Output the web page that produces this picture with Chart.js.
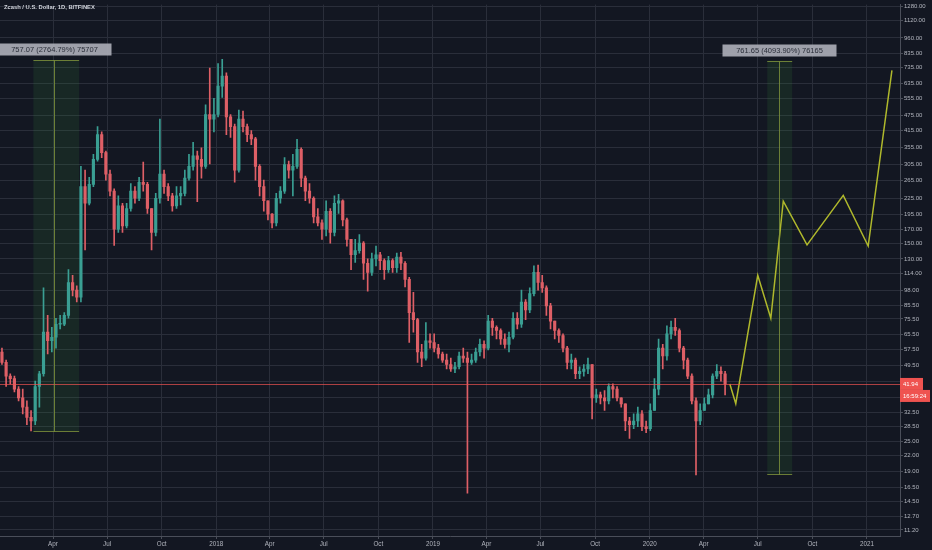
<!DOCTYPE html>
<html><head><meta charset="utf-8">
<script src="https://cdn.jsdelivr.net/npm/chart.js@4.4.1/dist/chart.umd.min.js"></script>
<style>html,body{margin:0;padding:0;background:#131722;overflow:hidden}canvas{display:block}</style>
</head><body><canvas id="c" width="932" height="550"></canvas>
<script>
// Weekly candles, day offsets measured from 2018-01-01 (centre of first week)
const firstCandleDay = -361;
const candleStepDays = 7;
const opens = [
56,51,45,44,40,37,34,31,30,41,
46,67,62,64,72,72,78,105,98,92,
250,215,255,320,400,340,280,240,170,210,
175,205,240,225,260,255,205,165,225,280,
250,230,210,230,235,270,300,330,320,300,
480,460,480,620,680,470,430,290,460,430,
400,385,300,250,220,195,180,225,240,305,
290,300,350,270,240,225,190,180,170,200,
165,215,220,185,155,135,140,150,125,115,
130,135,128,118,128,120,132,125,108,80,
75,56,53,62,61,58,55,52,50,48,
49,54,53,51,52,56,60,58,74,70,
68,63,60,64,76,72,88,82,95,115,
105,100,85,74,68,65,58,51,52,46,
47,48,50,37,38,37,36,41,40,37,
35,30,29,30,32,28.5,28,33,40,58,
54,66,70,68,58,52,45,36,30,33,
35,38,45,47,46];
const highs = [
58,52,46,45,41,40,36,33,43,47,
100,78,70,76,78,80,118,112,102,300,
290,272,335,430,410,345,290,245,230,215,
215,257,250,272,312,260,205,235,460,290,
257,235,250,250,290,335,373,345,355,524,
730,555,760,790,700,480,440,500,495,440,
415,390,305,265,220,196,235,250,325,315,
335,383,355,275,257,228,205,185,220,205,
230,233,222,188,155,155,162,152,130,137,
146,138,130,133,130,137,138,127,110,96,
76,60,73,66,66,60,56,55,53,51,
56,58,56,55,58,63,62,78,76,71,
69,66,67,80,80,98,90,100,122,123,
112,102,87,74,69,66,59,55,53,49,
50,53,50,40,39,39.5,42,42,41,37,
35,31,32,34,33,30,35,44,63,60,
71,74,76,69,59,53,46,37,35,37,
40,46,50,49,47];
const lows = [
50,41,42,39,36,32,29,27.4,29,34,
45,55,56,58,69,71,76,93,88,88,
141,212,250,315,325,265,230,147,165,165,
172,200,215,220,240,196,141,160,215,235,
220,200,205,212,230,265,290,218,270,295,
307,410,470,560,400,390,260,285,410,375,
365,265,230,200,185,172,175,215,235,270,
230,295,250,220,215,180,175,155,160,150,
160,196,175,146,118,126,137,108,97,112,
122,118,108,115,115,115,118,101,61,67,
51,49,52,58,56,53,51,48,47,46.4,
48,51,15.6,50,51,54,53,57,65,63,
60,58,56,63,69,70,75,80,93,98,
96,78,69,63,61,56,48,48,44,44,
45,46,30.6,35.5,35,33,35,37,36,34,
27.5,25.6,28,28.5,27.5,27,27.5,33,38,48,
52,63,65,56,48,44,35,18.4,29,33,
35,37,44,43,38];
const closes = [
51,45,44,40,37,34,31,30,41,46,
67,62,64,72,72,78,105,98,92,250,
215,255,320,400,340,280,240,170,210,175,
205,240,225,260,255,205,165,225,280,250,
230,210,230,235,270,300,330,320,300,480,
460,480,620,680,470,430,290,460,430,400,
385,300,250,220,195,180,225,240,305,290,
300,350,270,240,225,190,180,170,200,165,
215,220,185,155,135,140,150,125,115,130,
135,128,118,128,120,132,125,108,80,75,
56,53,62,61,58,55,52,50,48,49,
54,53,51,52,56,60,58,74,70,68,
63,60,64,76,72,88,82,95,115,105,
100,85,74,68,65,58,51,52,46,47,
48,50,37,38,37,36,41,40,37,35,
30,29,30,32,28.5,28,33,40,58,54,
66,70,68,58,52,45,36,30,33,35,
38,45,47,46,41.94];

// Projection path drawn on the chart
const projDays = [865,875,912,934,955,995,1056,1098,1138];
const projPrices = [41.94,35.1,112,76,219,147.5,231,146,716];

// Price range measurements
const measureStartDays = [-308,928];
const measureEndDays = [-231,970];
const measureLineDays = [-273,948];
const measureLow = [27.38,18.6];
const measureHigh = [784.45,780.25];
const measureText = ['757.07 (2764.79%) 75707','761.65 (4093.90%) 76165'];

const lastPrice = 41.94;
const countdownText = '16:59:24';
const titleText = 'Zcash / U.S. Dollar, 1D, BITFINEX';

const yTickValues = [11.2,12.7,14.5,16.5,19,22,25,28.5,32.5,37,43,49.5,57.5,65.5,75.5,85.5,98,114,130,150,170,195,225,265,305,355,415,475,555,635,735,835,960,1120,1280];
const xTickDays = [-275,-184,-92,0,90,181,273,365,455,546,638,730,821,912,1004,1096];
const xTickLabels = ['Apr','Jul','Oct','2018','Apr','Jul','Oct','2019','Apr','Jul','Oct','2020','Apr','Jul','Oct','2021'];

const UP = '#3a9f93', DOWN = '#de5f66';
const candleDays = closes.map((_, i) => firstCandleDay + i * candleStepDays);
const isUp = i => closes[i] >= opens[i];

const bodyData = candleDays.map((d, i) => ({x: d, y: [opens[i], closes[i]]}));
const wickData = candleDays.map((d, i) => ({x: d, y: [lows[i], highs[i]]}));
const projData = projDays.map((d, i) => ({x: d, y: projPrices[i]}));

const overlay = {
  id: 'overlay',
  beforeDraw(chart) {
    const c = chart.ctx; c.save();
    c.fillStyle = '#131722'; c.fillRect(0, 0, chart.width, chart.height);
    c.restore();
  },
  beforeDatasetsDraw(chart) {
    const c = chart.ctx, x = chart.scales.x, y = chart.scales.y;
    c.save();
    for (let i = 0; i < measureLineDays.length; i++) {
      const x0 = x.getPixelForValue(measureStartDays[i]), x1 = x.getPixelForValue(measureEndDays[i]);
      const yT = y.getPixelForValue(measureHigh[i]), yB = y.getPixelForValue(measureLow[i]);
      c.fillStyle = 'rgba(56,142,60,0.15)';
      c.fillRect(x0, yT, x1 - x0, yB - yT);
    }
    c.restore();
  },
  afterDatasetsDraw(chart) {
    const c = chart.ctx, x = chart.scales.x, y = chart.scales.y, a = chart.chartArea;
    c.save();
    const yp = Math.round(y.getPixelForValue(lastPrice)) + 0.5;
    c.strokeStyle = 'rgba(239,83,80,0.7)'; c.lineWidth = 1;
    c.beginPath(); c.moveTo(a.left, yp); c.lineTo(a.right, yp); c.stroke();
    for (let i = 0; i < measureLineDays.length; i++) {
      const x0 = x.getPixelForValue(measureStartDays[i]), x1 = x.getPixelForValue(measureEndDays[i]);
      const xm = Math.round(x.getPixelForValue(measureLineDays[i])) + 0.5;
      const yT = Math.round(y.getPixelForValue(measureHigh[i])) + 0.5, yB = Math.round(y.getPixelForValue(measureLow[i])) + 0.5;
      c.strokeStyle = 'rgba(130,150,60,0.8)'; c.lineWidth = 1;
      c.beginPath();
      c.moveTo(xm, yT); c.lineTo(xm, yB);
      c.moveTo(x0, yT); c.lineTo(x1, yT);
      c.moveTo(x0, yB); c.lineTo(x1, yB);
      c.stroke();
      const bw = 114, bh = 12, bx = xm - bw / 2, by = yT - 17;
      c.fillStyle = 'rgba(170,173,182,0.92)';
      c.fillRect(bx, by, bw, bh);
      c.fillStyle = '#2a2e39';
      c.font = '7.5px "Liberation Sans", Arial, sans-serif';
      c.textAlign = 'center'; c.textBaseline = 'middle';
      c.fillText(measureText[i], xm, by + bh / 2 + 0.5);
    }
    c.restore();
  },
  afterDraw(chart) {
    const c = chart.ctx, y = chart.scales.y, a = chart.chartArea;
    c.save();
    c.fillStyle = '#d1d4dc';
    c.font = 'bold 5.8px "Liberation Sans", Arial, sans-serif';
    c.textAlign = 'left'; c.textBaseline = 'middle';
    c.fillText(titleText, 4, 7);
    const yp = y.getPixelForValue(lastPrice);
    c.fillStyle = '#ef5350';
    c.fillRect(a.right, yp - 6, 23, 12);
    c.fillRect(a.right, yp + 6, 30, 12);
    c.fillStyle = '#ffffff';
    c.font = '6px "Liberation Sans", Arial, sans-serif';
    c.fillText(lastPrice.toFixed(2), a.right + 3, yp + 0.5);
    c.fillText(countdownText, a.right + 3, yp + 12.5);
    c.restore();
  }
};

const gridColor = '#2a2e3a';
new Chart(document.getElementById('c'), {
  type: 'bar',
  data: {
    datasets: [
      {type: 'line', data: projData, borderColor: '#afb82c', borderWidth: 1.5, pointRadius: 0, tension: 0, fill: false, order: 0},
      {type: 'bar', data: bodyData, grouped: false, barThickness: 2.5, minBarLength: 1, borderWidth: 0,
        backgroundColor: ctx => isUp(ctx.dataIndex) ? UP : DOWN, order: 1},
      {type: 'bar', data: wickData, grouped: false, barThickness: 1, borderWidth: 0,
        backgroundColor: ctx => isUp(ctx.dataIndex) ? UP : DOWN, order: 2}
    ]
  },
  options: {
    responsive: false, animation: false, devicePixelRatio: 1,
    layout: {padding: 0},
    plugins: {legend: {display: false}, tooltip: {enabled: false}},
    scales: {
      x: {
        type: 'linear', min: -364.3, max: 1151.6, offset: false,
        grid: {color: gridColor, offset: false, drawTicks: true, tickLength: 3, tickColor: '#4a4e59'},
        border: {color: '#4a4e59', width: 1},
        afterBuildTicks: s => { s.ticks = xTickDays.map(v => ({value: v})); },
        afterFit: s => { s.height = 14; },
        ticks: {autoSkip: false, maxRotation: 0, padding: 1, color: '#b2b5be',
          font: {size: 6.3, family: '"Liberation Sans", Arial, sans-serif'},
          callback: v => { const k = xTickDays.indexOf(v); return k >= 0 ? xTickLabels[k] : ''; }}
      },
      y: {
        type: 'logarithmic', position: 'right', min: 10.6, max: 1297,
        grid: {color: gridColor, drawTicks: true, tickLength: 3, tickColor: '#4a4e59'},
        border: {color: '#4a4e59', width: 1},
        afterBuildTicks: s => { s.ticks = yTickValues.map(v => ({value: v})); },
        afterFit: s => { s.width = 32; },
        ticks: {autoSkip: false, padding: 1, color: '#b2b5be',
          font: {size: 6, family: '"Liberation Sans", Arial, sans-serif'},
          callback: v => Number(v).toFixed(2)}
      }
    }
  },
  plugins: [overlay]
});
</script>
</body></html>
